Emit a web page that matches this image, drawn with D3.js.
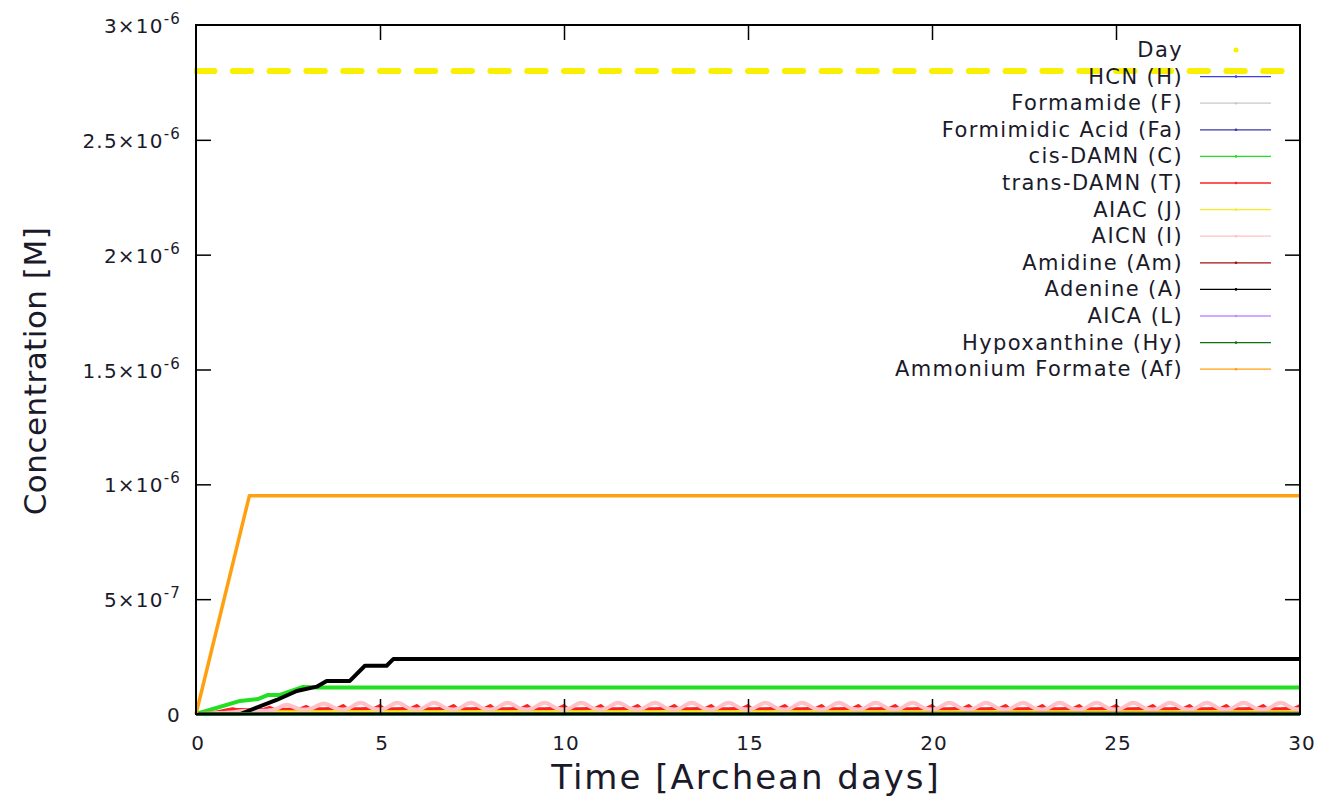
<!DOCTYPE html>
<html>
<head>
<meta charset="utf-8">
<script src="https://cdn.jsdelivr.net/npm/d3@7"></script>
<style>
  html, body { margin: 0; padding: 0; background: #fff; }
  svg { display: block; }
  text { font-family: "DejaVu Sans", Verdana, sans-serif; fill: #1a1a2a; }
</style>
</head>
<body>
<svg id="chart" width="1321" height="798"></svg>
<script>
// ---- data (concentrations in M, time in Archean days) ----
const xTicks = [0, 5, 10, 15, 20, 25, 30];
const yTicks = [0, 5e-7, 1e-6, 1.5e-6, 2e-6, 2.5e-6, 3e-6];
const yTickLabels = [["0", ""], ["5\u00d710", "-7"], ["1\u00d710", "-6"], ["1.5\u00d710", "-6"],
                     ["2\u00d710", "-6"], ["2.5\u00d710", "-6"], ["3\u00d710", "-6"]];

const dayLevel = 2.8e-6;

const flatTime = [0, 30];
const hcnValues = [0, 0];
const formamideValues = [0, 0];
const formimidicValues = [0, 0];
const aicaValues = [0, 0];
const hypoxanthineValues = [0, 0];

const amidineTime = [0, 2, 30];
const amidineValues = [0, 2e-9, 3e-9];

const aiacTime = [0, 1, 2, 30];
const aiacValues = [0, 5e-9, 1e-8, 1e-8];

const cisTime = [0, 1.2, 1.68, 1.96, 2.28, 2.91, 3.3, 30];
const cisValues = [0, 5.7e-8, 6.5e-8, 8.3e-8, 8.3e-8, 1.18e-7, 1.15e-7, 1.15e-7];

const adenineTime = [0, 1.2, 2.19, 2.74, 3.28, 3.55, 4.18, 4.59, 5.18, 5.36, 30];
const adenineValues = [0, 0, 6.1e-8, 1.0e-7, 1.19e-7, 1.44e-7, 1.44e-7, 2.1e-7, 2.1e-7, 2.39e-7, 2.39e-7];

const formateTime = [0, 1.45, 30];
const formateValues = [0, 9.5e-7, 9.5e-7];

// daily cycle samples for trans-DAMN and AICN
const cycleTime = [
  0, 0.1, 0.47, 0.85, 1, 1.1, 1.47, 1.85, 2, 2.1, 2.47, 2.85, 3, 3.1, 3.47, 3.85,
  4, 4.1, 4.47, 4.85, 5, 5.1, 5.47, 5.85, 6, 6.1, 6.47, 6.85, 7, 7.1, 7.47, 7.85,
  8, 8.1, 8.47, 8.85, 9, 9.1, 9.47, 9.85, 10, 10.1, 10.47, 10.85, 11, 11.1, 11.47, 11.85,
  12, 12.1, 12.47, 12.85, 13, 13.1, 13.47, 13.85, 14, 14.1, 14.47, 14.85, 15, 15.1, 15.47, 15.85,
  16, 16.1, 16.47, 16.85, 17, 17.1, 17.47, 17.85, 18, 18.1, 18.47, 18.85, 19, 19.1, 19.47, 19.85,
  20, 20.1, 20.47, 20.85, 21, 21.1, 21.47, 21.85, 22, 22.1, 22.47, 22.85, 23, 23.1, 23.47, 23.85,
  24, 24.1, 24.47, 24.85, 25, 25.1, 25.47, 25.85, 26, 26.1, 26.47, 26.85, 27, 27.1, 27.47, 27.85,
  28, 28.1, 28.47, 28.85, 29, 29.1, 29.47, 29.85, 30
];
const transValues = [
  0, 0, 5e-9, 1.8e-8, 2.2e-8, 1.8e-8, 1.8e-8, 2.0e-8, 2.8e-8, 2.0e-8, 2.0e-8, 2.2e-8, 3.2e-8, 2.2e-8, 2.2e-8, 2.4e-8,
  3.6e-8, 2.2e-8, 2.2e-8, 2.4e-8, 3.6e-8, 2.2e-8, 2.2e-8, 2.4e-8, 3.6e-8, 2.2e-8, 2.2e-8, 2.4e-8, 3.6e-8, 2.2e-8, 2.2e-8, 2.4e-8,
  3.6e-8, 2.2e-8, 2.2e-8, 2.4e-8, 3.6e-8, 2.2e-8, 2.2e-8, 2.4e-8, 3.6e-8, 2.2e-8, 2.2e-8, 2.4e-8, 3.6e-8, 2.2e-8, 2.2e-8, 2.4e-8,
  3.6e-8, 2.2e-8, 2.2e-8, 2.4e-8, 3.6e-8, 2.2e-8, 2.2e-8, 2.4e-8, 3.6e-8, 2.2e-8, 2.2e-8, 2.4e-8, 3.6e-8, 2.2e-8, 2.2e-8, 2.4e-8,
  3.6e-8, 2.2e-8, 2.2e-8, 2.4e-8, 3.6e-8, 2.2e-8, 2.2e-8, 2.4e-8, 3.6e-8, 2.2e-8, 2.2e-8, 2.4e-8, 3.6e-8, 2.2e-8, 2.2e-8, 2.4e-8,
  3.6e-8, 2.2e-8, 2.2e-8, 2.4e-8, 3.6e-8, 2.2e-8, 2.2e-8, 2.4e-8, 3.6e-8, 2.2e-8, 2.2e-8, 2.4e-8, 3.6e-8, 2.2e-8, 2.2e-8, 2.4e-8,
  3.6e-8, 2.2e-8, 2.2e-8, 2.4e-8, 3.6e-8, 2.2e-8, 2.2e-8, 2.4e-8, 3.6e-8, 2.2e-8, 2.2e-8, 2.4e-8, 3.6e-8, 2.2e-8, 2.2e-8, 2.4e-8,
  3.6e-8, 2.2e-8, 2.2e-8, 2.4e-8, 3.6e-8, 2.2e-8, 2.2e-8, 2.4e-8, 3.6e-8
];
const aicnValues = [
  0, 0, 3e-9, 6e-9, 8e-9, 1e-8, 1.5e-8, 1.4e-8, 1.6e-8, 1.8e-8, 4.0e-8, 2.0e-8, 2.0e-8, 2.2e-8, 4.6e-8, 2.2e-8,
  2.0e-8, 2.2e-8, 4.9e-8, 2.2e-8, 2.0e-8, 2.2e-8, 4.9e-8, 2.2e-8, 2.0e-8, 2.2e-8, 4.9e-8, 2.2e-8, 2.0e-8, 2.2e-8, 4.9e-8, 2.2e-8,
  2.0e-8, 2.2e-8, 4.9e-8, 2.2e-8, 2.0e-8, 2.2e-8, 4.9e-8, 2.2e-8, 2.0e-8, 2.2e-8, 4.9e-8, 2.2e-8, 2.0e-8, 2.2e-8, 4.9e-8, 2.2e-8,
  2.0e-8, 2.2e-8, 4.9e-8, 2.2e-8, 2.0e-8, 2.2e-8, 4.9e-8, 2.2e-8, 2.0e-8, 2.2e-8, 4.9e-8, 2.2e-8, 2.0e-8, 2.2e-8, 4.9e-8, 2.2e-8,
  2.0e-8, 2.2e-8, 4.9e-8, 2.2e-8, 2.0e-8, 2.2e-8, 4.9e-8, 2.2e-8, 2.0e-8, 2.2e-8, 4.9e-8, 2.2e-8, 2.0e-8, 2.2e-8, 4.9e-8, 2.2e-8,
  2.0e-8, 2.2e-8, 4.9e-8, 2.2e-8, 2.0e-8, 2.2e-8, 4.9e-8, 2.2e-8, 2.0e-8, 2.2e-8, 4.9e-8, 2.2e-8, 2.0e-8, 2.2e-8, 4.9e-8, 2.2e-8,
  2.0e-8, 2.2e-8, 4.9e-8, 2.2e-8, 2.0e-8, 2.2e-8, 4.9e-8, 2.2e-8, 2.0e-8, 2.2e-8, 4.9e-8, 2.2e-8, 2.0e-8, 2.2e-8, 4.9e-8, 2.2e-8,
  2.0e-8, 2.2e-8, 4.9e-8, 2.2e-8, 2.0e-8, 2.2e-8, 4.9e-8, 2.2e-8, 2.0e-8
];

// species in legend order (later entries are drawn on top)
const seriesNames = ["HCN (H)", "Formamide (F)", "Formimidic Acid (Fa)", "cis-DAMN (C)", "trans-DAMN (T)",
  "AIAC (J)", "AICN (I)", "Amidine (Am)", "Adenine (A)", "AICA (L)", "Hypoxanthine (Hy)", "Ammonium Formate (Af)"];
const seriesColors = ["#3c3cf0", "#c8c8c8", "#3838a8", "#20e020", "#ff2020",
  "#f4f020", "#ffc0c8", "#a01010", "#000000", "#c090ff", "#107010", "#ffa010"];
const seriesTimes = [flatTime, flatTime, flatTime, cisTime, cycleTime,
  aiacTime, cycleTime, amidineTime, adenineTime, flatTime, flatTime, formateTime];
const seriesValues = [hcnValues, formamideValues, formimidicValues, cisValues, transValues,
  aiacValues, aicnValues, amidineValues, adenineValues, aicaValues, hypoxanthineValues, formateValues];
const seriesWidths = [3, 3, 3, 4, 3.5, 3, 4, 3, 4, 3, 3.5, 3.5];

// ---- layout ----
const svg = d3.select("#chart");
const plot = { left: 196, right: 1300, top: 25, bottom: 714 };

const x = d3.scaleLinear().domain([0, 30]).range([plot.left, plot.right]);
const y = d3.scaleLinear().domain([0, 3e-6]).range([plot.bottom, plot.top]);

svg.append("defs").append("clipPath").attr("id", "plotClip")
  .append("rect")
  .attr("x", plot.left - 2).attr("y", plot.top)
  .attr("width", plot.right - plot.left + 2).attr("height", plot.bottom - plot.top + 3);

const g = svg.append("g").attr("clip-path", "url(#plotClip)");

// daytime indicator: dashed band, one dash per half-day of light
const dayStroke = [x(0.5) - x(0), x(1) - x(0.5)];
g.append("line")
  .attr("x1", x(0)).attr("x2", x(30))
  .attr("y1", y(dayLevel)).attr("y2", y(dayLevel))
  .attr("stroke", "#f8f000")
  .attr("stroke-width", 6)
  .attr("stroke-linecap", "round")
  .attr("stroke-dasharray", dayStroke.join(","));

seriesNames.forEach((name, i) => {
  const pts = seriesTimes[i].map((t, k) => [t, seriesValues[i][k]]);
  const line = d3.line()
    .x(d => x(d[0]))
    .y(d => y(d[1]))
    .curve(name === "AICN (I)" ? d3.curveMonotoneX : d3.curveLinear);
  g.append("path")
    .datum(pts)
    .attr("fill", "none")
    .attr("stroke", seriesColors[i])
    .attr("stroke-width", seriesWidths[i])
    .attr("stroke-linejoin", "round")
    .attr("d", line);
});

// ---- axes (gnuplot style: inward ticks mirrored on all four sides) ----
const tickLen = 15;

const bottomAxis = d3.axisBottom(x).tickValues(xTicks).tickSize(-tickLen).tickFormat("");
const topAxis = d3.axisTop(x).tickValues(xTicks).tickSize(-tickLen).tickFormat("");
const leftAxis = d3.axisLeft(y).tickValues(yTicks).tickSize(-tickLen).tickFormat("");
const rightAxis = d3.axisRight(y).tickValues(yTicks).tickSize(-tickLen).tickFormat("");

[[bottomAxis, `translate(0,${plot.bottom})`], [topAxis, `translate(0,${plot.top})`],
 [leftAxis, `translate(${plot.left},0)`], [rightAxis, `translate(${plot.right},0)`]].forEach(([ax, tr]) => {
  const a = svg.append("g").attr("transform", tr).call(ax);
  a.select(".domain").remove();
  a.selectAll(".tick line").attr("stroke", "#000").attr("stroke-width", 1.5);
  a.selectAll(".tick").filter(d => d === 0 || d === 30 || d === 3e-6).remove();
});

svg.append("rect")
  .attr("x", plot.left).attr("y", plot.top)
  .attr("width", plot.right - plot.left).attr("height", plot.bottom - plot.top)
  .attr("fill", "none").attr("stroke", "#000").attr("stroke-width", 2);

// tick labels
svg.append("g").selectAll("text").data(xTicks).join("text")
  .attr("x", d => x(d) + 2)
  .attr("y", 750)
  .attr("text-anchor", "middle")
  .attr("font-size", 20)
  .attr("letter-spacing", 1)
  .text(d => d);

const yl = svg.append("g").selectAll("text").data(yTicks).join("text")
  .attr("x", 181)
  .attr("y", d => y(d) + 8)
  .attr("text-anchor", "end")
  .attr("font-size", 20)
  .attr("letter-spacing", 1.2);
yl.append("tspan").text((d, i) => yTickLabels[i][0]);
yl.append("tspan")
  .attr("dy", -9)
  .attr("font-size", 15)
  .text((d, i) => yTickLabels[i][1]);

// axis titles
svg.append("text")
  .attr("transform", `translate(46,371) rotate(-90)`)
  .attr("text-anchor", "middle")
  .attr("font-size", 31)
  .attr("letter-spacing", 0.5)
  .attr("fill", "#000")
  .text("Concentration [M]");

svg.append("text")
  .attr("x", 746)
  .attr("y", 789)
  .attr("text-anchor", "middle")
  .attr("font-size", 34)
  .attr("letter-spacing", 2)
  .attr("fill", "#000")
  .text("Time [Archean days]");

// ---- legend ----
const legendX = 1183, legendY0 = 50, legendStep = 26.6;
const legendLabels = ["Day"].concat(seriesNames);
const legendColors = ["#f8f000"].concat(seriesColors);
const leg = svg.append("g");
legendLabels.forEach((name, i) => {
  const yy = legendY0 + i * legendStep;
  leg.append("text")
    .attr("x", legendX).attr("y", yy + 7)
    .attr("text-anchor", "end")
    .attr("font-size", 21)
    .attr("letter-spacing", 1.4)
    .text(name);
  if (i > 0) {
    leg.append("line")
      .attr("x1", 1200).attr("x2", 1271)
      .attr("y1", yy).attr("y2", yy)
      .attr("stroke", legendColors[i])
      .attr("stroke-width", 1.3);
  }
  leg.append("circle")
    .attr("cx", 1236).attr("cy", yy)
    .attr("r", i === 0 ? 2.5 : 1.3)
    .attr("fill", legendColors[i]);
});
</script>
</body>
</html>
